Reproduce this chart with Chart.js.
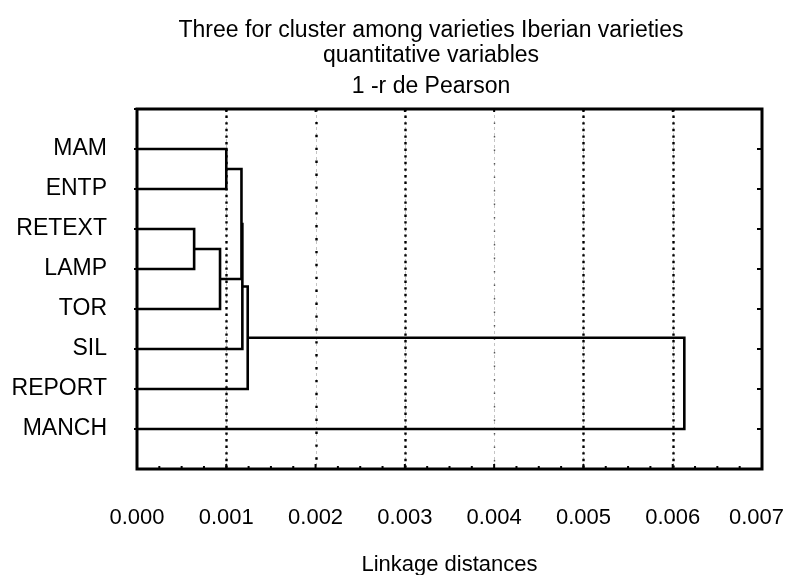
<!DOCTYPE html>
<html><head><meta charset="utf-8">
<script src="https://cdn.jsdelivr.net/npm/chart.js@4/dist/chart.umd.min.js"></script>
<style>html,body{margin:0;padding:0;background:#fff}</style>
</head><body>
<canvas id="c" width="785" height="575"></canvas>
<script>
// ---- data ----
const titleLines = ['Three for cluster among varieties Iberian varieties', 'quantitative variables', '1 -r de Pearson'];
const xAxisTitle = 'Linkage distances';
const leaves = ['MAM', 'ENTP', 'RETEXT', 'LAMP', 'TOR', 'SIL', 'REPORT', 'MANCH'];
// cluster ids: 0..7 = leaves; merge k creates cluster 8 + k
const mergeLeft   = [2, 8, 0, 10, 11, 12, 13];
const mergeRight  = [3, 4, 1,  9,  5,  6,  7];
const mergeHeight = [0.00064, 0.00093, 0.00100, 0.00117, 0.00118, 0.00124, 0.00613];
const xTickLabels = ['0.000', '0.001', '0.002', '0.003', '0.004', '0.005', '0.006', '0.007'];

// ---- build dendrogram segments ----
const nodeX = leaves.map(() => 0);
const nodeY = leaves.map((_, i) => i + 1);
const datasets = [];
mergeHeight.forEach((h, k) => {
  const a = mergeLeft[k], b = mergeRight[k];
  datasets.push({
    data: [{x: nodeX[a], y: nodeY[a]}, {x: h, y: nodeY[a]}, {x: h, y: nodeY[b]}, {x: nodeX[b], y: nodeY[b]}],
    showLine: true, borderColor: '#000', borderWidth: 2.6, pointRadius: 0, tension: 0, fill: false
  });
  nodeX.push(h);
  nodeY.push((nodeY[a] + nodeY[b]) / 2);
});

const FONT = "'Liberation Sans', Arial, sans-serif";

const decor = {
  id: 'decor',
  beforeDatasetsDraw(chart) {
    const ctx = chart.ctx, x = chart.scales.x, a = chart.chartArea;
    const style = ['', 'dense', 'sparse', 'dense', 'faint', 'dense', 'dense'];
    ctx.save();
    for (let i = 1; i < xTickLabels.length - 1; i++) {
      const px = Math.round(x.getPixelForValue(i * 0.001)) + 0.5;
      ctx.beginPath(); ctx.moveTo(px, a.top); ctx.lineTo(px, a.bottom);
      ctx.strokeStyle = '#c4c4c4'; ctx.lineWidth = 1; ctx.setLineDash([3, 3]); ctx.stroke();
      ctx.beginPath(); ctx.moveTo(px, a.top); ctx.lineTo(px, a.bottom);
      if (style[i] === 'dense') { ctx.strokeStyle = '#000'; ctx.lineWidth = 2.4; ctx.setLineDash([2.4, 4.2]); }
      else if (style[i] === 'sparse') { ctx.strokeStyle = '#000'; ctx.lineWidth = 2.4; ctx.setLineDash([2.4, 10.5]); }
      else { ctx.strokeStyle = '#555'; ctx.lineWidth = 1.4; ctx.setLineDash([1.5, 12]); }
      ctx.stroke();
    }
    ctx.restore();
  },
  afterDatasetsDraw(chart) {
    const ctx = chart.ctx, x = chart.scales.x, y = chart.scales.y, a = chart.chartArea;
    ctx.save();
    ctx.setLineDash([]);
    ctx.strokeStyle = '#000';
    ctx.lineWidth = 3;
    ctx.strokeRect(a.left, a.top, a.right - a.left, a.bottom - a.top);
    ctx.lineWidth = 2;
    ctx.beginPath();
    leaves.forEach((_, i) => {
      const py = y.getPixelForValue(i + 1);
      ctx.moveTo(a.left - 3, py); ctx.lineTo(a.left, py);
      ctx.moveTo(a.right - 5, py); ctx.lineTo(a.right, py);
    });
    ctx.moveTo(a.left - 3, a.top); ctx.lineTo(a.left, a.top);
    for (let i = 0; i <= 28; i++) {
      const px = x.getPixelForValue(i * 0.00025);
      const len = i % 4 === 0 ? 5 : 3;
      ctx.moveTo(px, a.bottom); ctx.lineTo(px, a.bottom - len);
      if (i % 4 === 0) { ctx.moveTo(px, a.top); ctx.lineTo(px, a.top + 3); }
    }
    ctx.stroke();
    ctx.restore();
  },
  afterDraw(chart) {
    const ctx = chart.ctx;
    ctx.save();
    ctx.fillStyle = '#000';
    ctx.font = '23px ' + FONT;
    ctx.textAlign = 'center';
    ctx.textBaseline = 'alphabetic';
    const base = [37, 62, 93];
    titleLines.forEach((t, i) => ctx.fillText(t, 431, base[i]));
    ctx.restore();
  }
};

new Chart(document.getElementById('c'), {
  type: 'scatter',
  data: {datasets},
  plugins: [decor],
  options: {
    responsive: false,
    animation: false,
    devicePixelRatio: 1,
    layout: {padding: {top: 109, left: 0, right: 23, bottom: 0}},
    plugins: {legend: {display: false}, tooltip: {enabled: false}, title: {display: false}},
    scales: {
      x: {
        type: 'linear', position: 'bottom', min: 0, max: 0.007,
        grid: {display: false, drawTicks: false},
        border: {display: false},
        ticks: {
          stepSize: 0.001, autoSkip: false, maxRotation: 0, padding: 36,
          color: '#000', font: {size: 22, family: FONT},
          callback: (v, i) => xTickLabels[i] + (i === xTickLabels.length - 1 ? '\u2002' : '')
        },
        title: {display: true, text: xAxisTitle, color: '#000', font: {size: 22, family: FONT, lineHeight: 1}, padding: {top: 0, bottom: -1}},
        afterFit(s) { s.height = 106; s.paddingLeft = 0; s.paddingRight = 0; }
      },
      y: {
        type: 'linear', min: 0, max: 9, reverse: true,
        grid: {display: false, drawTicks: false},
        border: {display: false},
        ticks: {
          stepSize: 1, autoSkip: false, padding: 30,
          color: '#000', font: {size: 23, family: FONT},
          callback: v => leaves[v - 1] || ''
        },
        afterFit(s) { s.width = 137; s.paddingTop = 0; s.paddingBottom = 0; }
      }
    }
  }
});
</script>
</body></html>
